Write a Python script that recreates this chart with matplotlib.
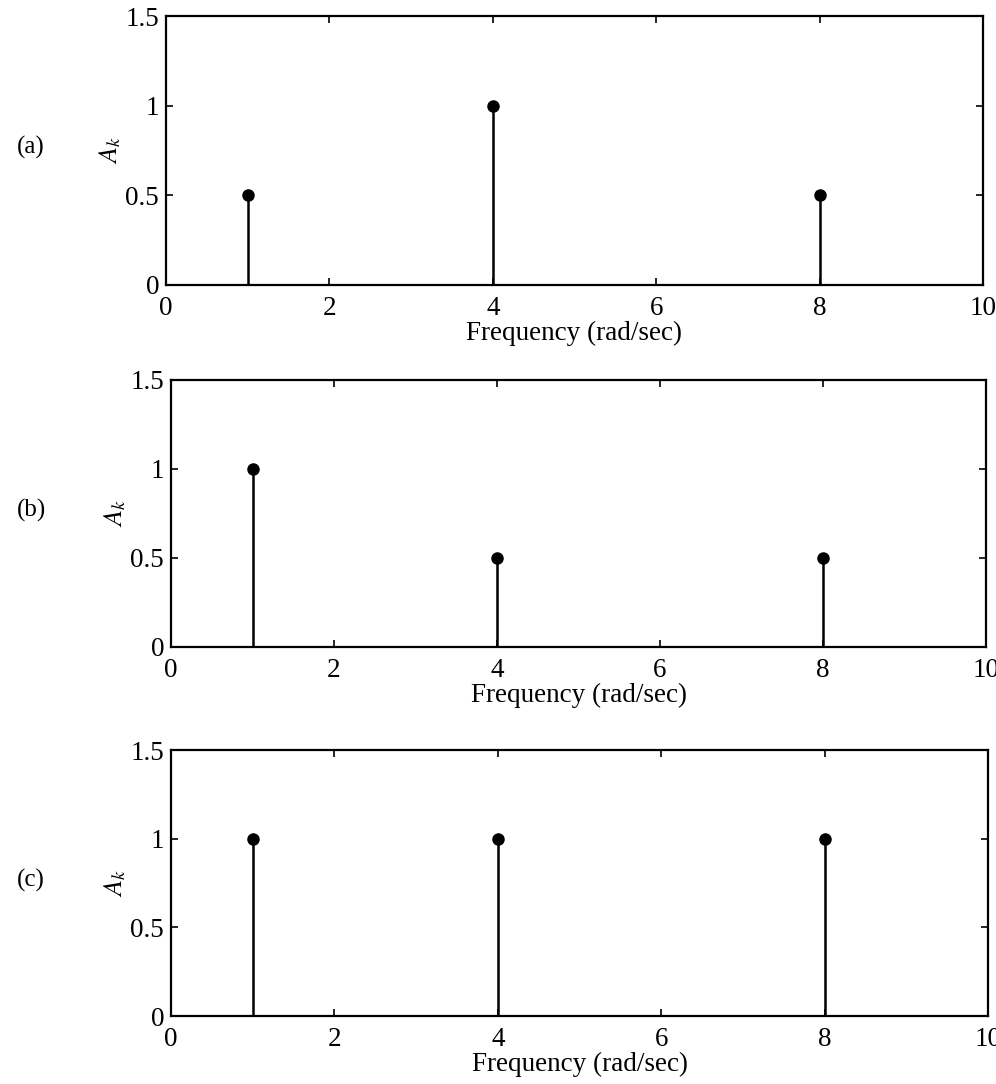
import matplotlib

matplotlib.use("Agg")
import matplotlib.pyplot as plt

# line spectra, one per panel
freqs = [1, 4, 8]
amps_a = [0.5, 1.0, 0.5]
amps_b = [1.0, 0.5, 0.5]
amps_c = [1.0, 1.0, 1.0]
panel_labels = ["(a)", "(b)", "(c)"]
xticks = [0, 2, 4, 6, 8, 10]
yticks = [0, 0.5, 1, 1.5]
ytick_labels = ["0", "0.5", "1", "1.5"]

plt.rcParams["font.family"] = ["Liberation Serif", "DejaVu Serif"]
plt.rcParams["mathtext.fontset"] = "stix"

W, H = 996, 1084
fig = plt.figure(figsize=(W / 100, H / 100), dpi=100)

# axes boxes in pixels: left, top, right, bottom
boxes = [(166, 16, 983, 285), (171, 380, 986, 647), (171, 750, 988, 1016)]
label_y = [147, 510, 880]

for amps, box, lab, ly in zip([amps_a, amps_b, amps_c], boxes, panel_labels, label_y):
    l, t, r, b = box
    ax = fig.add_axes([l / W, 1 - b / H, (r - l) / W, (b - t) / H])
    ml, sl, bl = ax.stem(freqs, amps, linefmt="k-", markerfmt="ko", basefmt=" ")
    ml.set_markersize(8)
    sl.set_linewidth(1.8)
    ax.set_xlim(0, 10)
    ax.set_ylim(0, 1.5)
    ax.set_xticks(xticks)
    ax.set_yticks(yticks)
    ax.set_yticklabels(ytick_labels)
    ax.tick_params(direction="in", top=True, right=True, length=5, width=1.2,
                   labelsize=19.5)
    ax.tick_params(axis="x", pad=8)
    ax.tick_params(axis="y", pad=5)
    for s in ax.spines.values():
        s.set_linewidth(1.6)
    ax.set_xlabel("Frequency (rad/sec)", fontsize=19.5, labelpad=0)
    ax.set_ylabel(r"$A_k$", fontsize=19, labelpad=2)
    fig.text(17 / W, 1 - ly / H, lab, fontsize=18, va="center", ha="left")

fig.savefig("out.png", dpi=100)
